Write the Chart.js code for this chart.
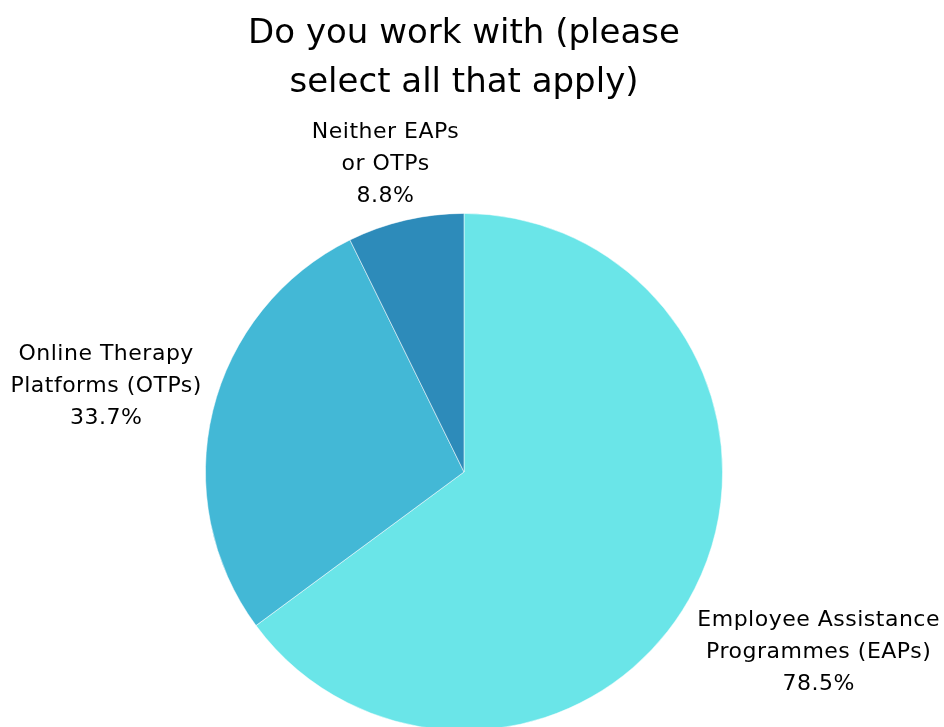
<!DOCTYPE html>
<html>
<head>
<meta charset="utf-8">
<title>Do you work with</title>
<script src="https://cdn.jsdelivr.net/npm/chart.js@4.4.1/dist/chart.umd.min.js"></script>
<style>
  html, body { margin: 0; padding: 0; background: #ffffff; overflow: hidden; }
  .chart-container { position: relative; width: 944px; height: 740px; }
</style>
</head>
<body>
<div class="chart-container"><canvas id="workWithChart"></canvas></div>
<script>
const titleLines = ['Do you work with (please', 'select all that apply)'];
const categoryLines = [
  ['Employee Assistance', 'Programmes (EAPs)'],
  ['Online Therapy', 'Platforms (OTPs)'],
  ['Neither EAPs', 'or OTPs']
];
const percentages = [78.5, 33.7, 8.8];
const sliceColors = ['#6ae5e8', '#43b8d6', '#2d8bba'];

const FONT_FAMILY = "'DejaVu Sans', 'Open Sans', sans-serif";

// Labels sit just outside each slice; pushed outward until they clear the pie,
// and slid up/down if they would run off the side of the canvas.
const outsideLabels = {
  id: 'outsideLabels',
  afterDatasetsDraw(chart, args, opts) {
    const { ctx } = chart;
    const meta = chart.getDatasetMeta(0);
    const values = chart.data.datasets[0].data;
    ctx.save();
    ctx.font = `${opts.size}px ${opts.family}`;
    ctx.letterSpacing = opts.letterSpacing + 'px';
    ctx.fillStyle = opts.color;
    ctx.textAlign = 'center';
    ctx.textBaseline = 'middle';

    meta.data.forEach((arc, i) => {
      const { x, y, startAngle, endAngle, outerRadius } =
        arc.getProps(['x', 'y', 'startAngle', 'endAngle', 'outerRadius'], true);
      const mid = (startAngle + endAngle) / 2;
      const dx = Math.cos(mid);
      const dy = Math.sin(mid);
      const lines = [...chart.data.labels[i], values[i].toFixed(1) + '%'];
      const w = Math.max(...lines.map(l => ctx.measureText(l).width));
      const h = (lines.length - 1) * opts.lineHeight + opts.size;
      let clear = outerRadius + opts.gap;

      // anchor just past the rim, box hung off it towards the outside
      let cx = x + dx * clear + dx * w / 2;
      let cy = y + dy * clear + Math.sign(dy) * Math.sqrt(Math.abs(dy)) * h / 2;

      const overlaps = () => {
        const nx = Math.max(cx - w / 2, Math.min(x, cx + w / 2));
        const ny = Math.max(cy - h / 2, Math.min(y, cy + h / 2));
        return Math.hypot(nx - x, ny - y) < clear;
      };

      while (overlaps()) { cx += dx; cy += dy; }

      const minX = opts.edge + w / 2;
      const maxX = chart.width - opts.edge - w / 2;
      if (cx < minX || cx > maxX) {
        cx = Math.min(maxX, Math.max(minX, cx));
        clear += opts.slideGap;
        const step = dy >= 0 ? 1 : -1;
        while (overlaps()) cy += step;
      }

      const top = cy - h / 2 + opts.size / 2;
      lines.forEach((line, j) => {
        ctx.fillText(line, cx, top + opts.lineHeight * j);
      });
    });
    ctx.restore();
  }
};

function renderWorkWithChart() {
  const canvas = document.getElementById('workWithChart');
  const ctx = canvas.getContext('2d');

  new Chart(ctx, {
    type: 'pie',
    data: {
      labels: categoryLines,
      datasets: [{
        data: percentages,
        backgroundColor: sliceColors,
        borderColor: 'rgba(255,255,255,0.5)',
        borderWidth: 1
      }]
    },
    plugins: [outsideLabels],
    options: {
      responsive: true,
      maintainAspectRatio: false,
      animation: false,
      layout: { padding: { top: 0, right: 16, bottom: 9, left: 0 } },
      plugins: {
        legend: { display: false },
        tooltip: { enabled: false },
        title: {
          display: true,
          text: titleLines,
          color: '#000000',
          font: { family: FONT_FAMILY, size: 34, weight: 'normal', lineHeight: 1.44 },
          padding: { top: 10, bottom: 105 }
        },
        outsideLabels: {
          family: FONT_FAMILY,
          size: 22,
          letterSpacing: 0.5,
          color: '#000000',
          lineHeight: 32,
          gap: 6,
          slideGap: 6,
          edge: 4
        }
      }
    }
  });
}

document.addEventListener('DOMContentLoaded', renderWorkWithChart);
</script>
</body>
</html>
